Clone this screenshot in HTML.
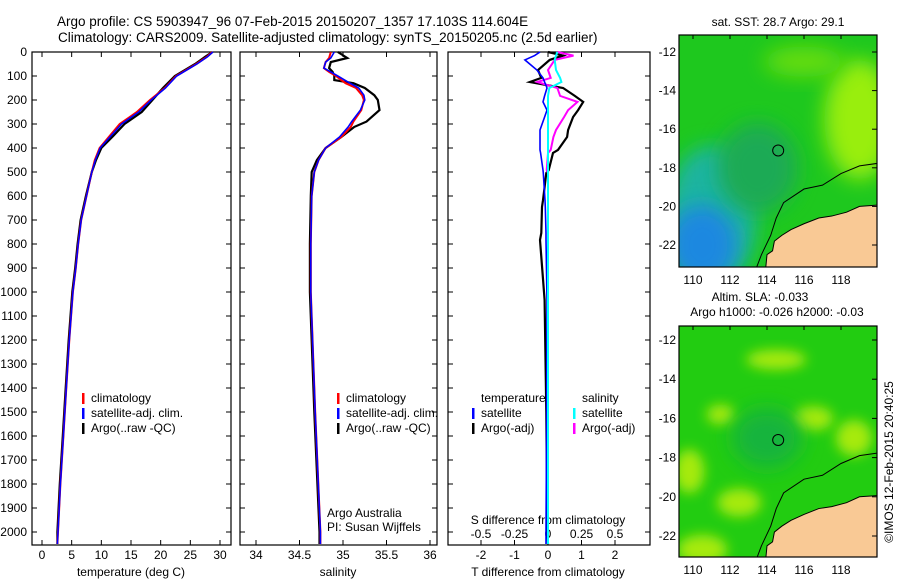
<!DOCTYPE html>
<html><head><meta charset="utf-8"><style>
html,body{margin:0;padding:0;background:#fff;}
svg{display:block;font-family:"Liberation Sans",sans-serif;}
</style></head><body>
<svg id="fig" width="900" height="580" viewBox="0 0 900 580" xmlns="http://www.w3.org/2000/svg">
<defs>
<filter id="blur8" x="-50%" y="-50%" width="200%" height="200%"><feGaussianBlur stdDeviation="10"/></filter>
<filter id="blur5" x="-50%" y="-50%" width="200%" height="200%"><feGaussianBlur stdDeviation="6"/></filter>
<clipPath id="clipTop"><rect x="679" y="35" width="198" height="232"/></clipPath>
<clipPath id="clipBot"><rect x="679" y="326" width="198" height="231"/></clipPath>
</defs>
<g font-size="13.5" fill="#000">
<text x="57" y="26">Argo profile: CS 5903947_96 07-Feb-2015 20150207_1357 17.103S 114.604E</text>
<text x="58" y="42">Climatology: CARS2009. Satellite-adjusted climatology: synTS_20150205.nc (2.5d earlier)</text>
</g>
<g id="plots"></g>
<g id="maps"></g>
<text transform="translate(893,462) rotate(-90)" text-anchor="middle" font-size="12">©IMOS 12-Feb-2015 20:40:25</text>
</svg>
<script>
// ---- data ----
const tDepth=[0,20,50,100,150,200,250,300,350,400,450,500,600,700,800,900,1000,1200,1400,1600,1800,2000,2050];
const tClim=[28.7,27.8,26,22.6,20.7,18.2,16,13.1,11.4,9.7,8.9,8.4,7.5,6.6,6.1,5.7,5.2,4.6,4.1,3.6,3.1,2.7,2.6];
const tSat=[28.8,27.9,26.1,22.7,20.8,18.4,16.3,13.4,11.6,9.8,9.0,8.4,7.5,6.6,6.1,5.7,5.2,4.6,4.1,3.6,3.1,2.7,2.6];
const tArgo=[28.7,27.5,25.8,22.4,20.4,18.6,16.8,13.9,12.0,10.0,9.1,8.4,7.4,6.5,6.0,5.6,5.1,4.5,4.0,3.5,3.0,2.6,2.6];
const sDepth=[0,25,42,67,83,100,117,130,150,180,200,242,290,312,354,400,450,500,600,800,1000,1500,2000,2050];
const sClim=[34.86,34.84,34.8,34.78,34.84,34.92,34.98,35.03,35.15,35.22,35.24,35.21,35.12,35.09,34.98,34.8,34.72,34.67,34.64,34.63,34.63,34.68,34.74,34.74];
const sSat=[34.9,34.86,34.8,34.78,34.86,34.94,35.02,35.08,35.18,35.24,35.25,35.2,35.1,35.06,34.96,34.8,34.72,34.67,34.64,34.63,34.63,34.68,34.74,34.74];
const sArgo=[34.94,35.05,34.86,34.84,34.88,34.9,34.9,35.12,35.25,35.36,35.4,35.42,35.27,35.13,34.98,34.8,34.7,34.64,34.63,34.62,34.62,34.67,34.73,34.73];
const dDepth=[0,15,33,75,108,125,150,183,208,242,271,325,354,408,421,492,504,617,646,754,783,1033,1500,2000,2050];
const dTSat=[-0.24,-0.4,-0.69,-0.33,-0.15,-0.1,-0.03,-0.1,-0.15,-0.03,-0.1,-0.24,-0.24,-0.24,-0.22,-0.15,-0.14,-0.09,-0.08,-0.06,-0.06,-0.03,-0.04,-0.06,-0.06];
const dTArgo=[0,0.45,0.05,-0.3,-0.2,-0.54,0.45,0.8,1.05,0.9,0.75,0.6,0.57,0.3,0.15,0.02,-0.05,-0.15,-0.18,-0.2,-0.24,-0.1,-0.05,-0.02,0];
const dSSat=[0.07,0.06,0.05,0.06,0.09,0.1,0.01,0.0,0.0,0.0,0.0,0.0,0.0,0.0,0.0,0.0,0.0,0.0,0.0,0.0,0.0,0.0,0.0,0.0,0.0];
const dSArgo=[0.07,0.19,0.05,0.0,0.02,-0.08,0.07,0.09,0.22,0.15,0.12,0.06,0.04,0.02,0.0,-0.01,0.0,0.0,0.0,0.0,0.0,0.0,0.0,0.0,0.0];
const depthTicks=[0,100,200,300,400,500,600,700,800,900,1000,1100,1200,1300,1400,1500,1600,1700,1800,1900,2000];
const tTicks=[0,5,10,15,20,25,30];
const sTicks=[34,34.5,35,35.5,36];
const sTickLabels=["34","34.5","35","35.5","36"];
const dTTicks=[-2,-1,0,1,2];
const dSTicks=[-0.5,-0.25,0,0.25,0.5];
const latTicks=[-12,-14,-16,-18,-20,-22];
const lonTicks=[110,112,114,116,118];

const NS='http://www.w3.org/2000/svg';
function el(tag,attrs,parent,txt){const e=document.createElementNS(NS,tag);for(const k in attrs)e.setAttribute(k,attrs[k]);if(txt!==undefined)e.textContent=txt;parent.appendChild(e);return e;}
const plots=document.getElementById('plots');
const maps=document.getElementById('maps');
const Y0=52,Y1=545;
const yD=d=>Y0+d*0.24;
function xlin(v0,p0,v1,p1){return v=>p0+(v-v0)*(p1-p0)/(v1-v0);}
const xT=xlin(0,42,30,220), xS=xlin(34,256,36,430), xDT=xlin(0,548,2,615), xDS=xlin(0,548,0.5,615);

function line(g,xs,vals,depths,col,w,name){
  const p=el('polyline',{points:vals.map((v,i)=>xs(v).toFixed(1)+','+yD(depths[i]).toFixed(1)).join(' '),fill:'none',stroke:col,'stroke-width':w},g);
  
  
}
function frame(x0,x1,name){
  const g=el('g',{},plots);
  
  
  el('rect',{x:x0,y:Y0,width:x1-x0,height:Y1-Y0,fill:'none',stroke:'#000','stroke-width':1.2},g);
  depthTicks.forEach(d=>{el('line',{x1:x0,x2:x0+5,y1:yD(d),y2:yD(d),stroke:'#000'},g);el('line',{x1:x1,x2:x1-5,y1:yD(d),y2:yD(d),stroke:'#000'},g);});
  return g;
}
function xticks(g,vals,labs,xs,ty){
  vals.forEach((v,i)=>{const x=xs(v);el('line',{x1:x,x2:x,y1:Y0,y2:Y0+5,stroke:'#000'},g);el('line',{x1:x,x2:x,y1:Y1,y2:Y1-5,stroke:'#000'},g);
   const t=el('text',{x:x,y:ty,'text-anchor':'middle','font-size':12},g,labs[i]);});
}
function legend(g,x,y,items){
  items.forEach((it,i)=>{el('rect',{x:x,y:y+i*15-9,width:2.5,height:11,fill:it[1]},g);
   const t=el('text',{x:x+9,y:y+i*15,'font-size':12},g,it[0]);});
}
// panel 1
let g=frame(32,231,'temperature-panel');
depthTicks.forEach(d=>{const t=el('text',{x:27,y:yD(d)+4,'text-anchor':'end','font-size':12},g,String(d));});
xticks(g,tTicks,tTicks.map(String),xT,559);
el('text',{x:131,y:576,'text-anchor':'middle','font-size':12},g,'temperature (deg C)');
line(g,xT,tArgo,tDepth,'#000',2.2,'argo-temperature-line');
line(g,xT,tClim,tDepth,'#f00',2,'climatology-temperature-line');
line(g,xT,tSat,tDepth,'#00f',1.6,'satellite-temperature-line');
legend(g,82,402,[['climatology','#f00'],['satellite-adj. clim.','#00f'],['Argo(..raw -QC)','#000']]);
// panel 2
g=frame(240,437,'salinity-panel');
xticks(g,sTicks,sTickLabels,xS,559);
el('text',{x:338,y:576,'text-anchor':'middle','font-size':12},g,'salinity');
line(g,xS,sArgo,sDepth,'#000',2.2,'argo-salinity-line');
line(g,xS,sClim,sDepth,'#f00',2,'climatology-salinity-line');
line(g,xS,sSat,sDepth,'#00f',1.6,'satellite-salinity-line');
legend(g,337,402,[['climatology','#f00'],['satellite-adj. clim.','#00f'],['Argo(..raw -QC)','#000']]);
el('text',{x:327,y:517,'font-size':12},g,'Argo Australia');
el('text',{x:327,y:531,'font-size':12},g,'PI: Susan Wijffels');
// panel 3
g=frame(448,650,'difference-panel');
dTTicks.forEach(v=>{const x=xDT(v);el('line',{x1:x,x2:x,y1:Y0,y2:Y0+5,stroke:'#000'},g);el('line',{x1:x,x2:x,y1:Y1,y2:Y1-5,stroke:'#000'},g);
 const t=el('text',{x:x,y:559,'text-anchor':'middle','font-size':12},g,String(v));});
dSTicks.forEach(v=>{const t=el('text',{x:xDS(v),y:538,'text-anchor':'middle','font-size':12},g,String(v).replace('0.','.').replace('-.','-0.').replace(/^\./,'0.'));});
el('text',{x:548,y:524,'text-anchor':'middle','font-size':12},g,'S difference from climatology');
el('text',{x:548,y:576,'text-anchor':'middle','font-size':12},g,'T difference from climatology');
line(g,xDT,dTArgo,dDepth,'#000',2.2,'argo-t-diff-line');
line(g,xDS,dSArgo,dDepth,'#f0f',2,'argo-s-diff-line');
line(g,xDT,dTSat,dDepth,'#00f',1.6,'satellite-t-diff-line');
line(g,xDS,dSSat,dDepth,'#0ff',2,'satellite-s-diff-line');
el('text',{x:481,y:402,'font-size':12},g,'temperature');
el('text',{x:582,y:402,'font-size':12},g,'salinity');
legend(g,472,417,[['satellite','#00f'],['Argo(-adj)','#000']]);
legend(g,573,417,[['satellite','#0ff'],['Argo(-adj)','#f0f']]);

// ---- maps ----
const xLon=xlin(110,693,118,841);
function mapPanel(y0,h,yLat,clip,name,kind){
  const g=el('g',{},maps);
  
  
  const c=el('g',{'clip-path':'url(#'+clip+')'},g);
  if(kind==='sst'){
    el('rect',{x:679,y:y0,width:198,height:h,fill:'#1ec81e'},c);
    el('ellipse',{cx:xLon(111),cy:yLat(-20.5),rx:45,ry:70,fill:'#1ab4a0',filter:'url(#blur8)'},c);
    el('ellipse',{cx:xLon(110.5),cy:yLat(-22),rx:35,ry:40,fill:'#1a88e0',filter:'url(#blur8)'},c);
    el('ellipse',{cx:xLon(113.5),cy:yLat(-18),rx:40,ry:45,fill:'#1aaa55',filter:'url(#blur8)'},c);
    el('ellipse',{cx:xLon(119),cy:yLat(-15.5),rx:35,ry:60,fill:'#99ee11',filter:'url(#blur8)'},c);
    el('ellipse',{cx:xLon(116),cy:yLat(-12.5),rx:40,ry:15,fill:'#66dd11',filter:'url(#blur8)'},c);
  } else {
    el('rect',{x:679,y:y0,width:198,height:h,fill:'#22cc11'},c);
    [[110.5,-22.7,25,15],[109.8,-18.7,15,22],[112.5,-20.3,22,14],[118.7,-17,18,18],[116.5,-16,20,12],[111.5,-15.8,14,10],[114.5,-13,30,10]].forEach(b=>
      el('ellipse',{cx:xLon(b[0]),cy:yLat(b[1]),rx:b[2],ry:b[3],fill:'#a6ea10',filter:'url(#blur5)'},c));
    el('ellipse',{cx:xLon(114),cy:yLat(-17),rx:35,ry:30,fill:'#14b43c',filter:'url(#blur8)'},c);
  }
  const land=[[113.9,-23.5],[114.0,-22.5],[114.3,-22.3],[114.4,-21.8],[114.8,-21.5],[115.3,-21.2],[116.0,-20.9],[116.8,-20.6],[117.5,-20.5],[118.3,-20.3],[119.0,-20.0],[120.5,-19.9],[120.5,-23.5]];
  el('polygon',{points:land.map(p=>xLon(p[0])+','+yLat(p[1])).join(' '),fill:'#f9c995',stroke:'#000','stroke-width':1},c);
  const iso=[[113.3,-23.5],[113.7,-22.5],[114.2,-21.5],[114.5,-20.6],[114.9,-19.8],[116.0,-19.1],[117.0,-18.9],[118.0,-18.3],[119.0,-17.9],[120.5,-17.7]];
  el('polyline',{points:iso.map(p=>xLon(p[0])+','+yLat(p[1])).join(' '),fill:'none',stroke:'#000','stroke-width':1},c);
  const m=el('circle',{cx:xLon(114.604),cy:yLat(-17.103),r:5.5,fill:'none',stroke:'#000','stroke-width':1},g);
  
  
  el('rect',{x:679,y:y0,width:198,height:h,fill:'none',stroke:'#000','stroke-width':1.2},g);
  latTicks.forEach(v=>{const y=yLat(v);el('line',{x1:877,x2:872,y1:y,y2:y,stroke:'#000'},g);
    const t=el('text',{x:676,y:y+4,'text-anchor':'end','font-size':12},g,String(v));});
  lonTicks.forEach(v=>{const x=xLon(v);el('line',{x1:x,x2:x,y1:y0,y2:y0+4,stroke:'#000'},g);});
  return g;
}
const yLatTop=v=>52+(-12-v)*19.3, yLatBot=v=>340+(-12-v)*19.6;
let mg=mapPanel(35,232,yLatTop,'clipTop','sst-map','sst');
lonTicks.forEach(v=>el('text',{x:xLon(v),y:284,'text-anchor':'middle','font-size':12},mg,String(v)));
el('text',{x:778,y:26,'text-anchor':'middle','font-size':12},mg,'sat. SST: 28.7 Argo: 29.1');
el('text',{x:760,y:301,'text-anchor':'middle','font-size':12},mg,'Altim. SLA: -0.033');
el('text',{x:777,y:316,'text-anchor':'middle','font-size':12},mg,'Argo h1000: -0.026 h2000: -0.03');
mg=mapPanel(326,231,yLatBot,'clipBot','sla-map','sla');
lonTicks.forEach(v=>el('text',{x:xLon(v),y:574,'text-anchor':'middle','font-size':12},mg,String(v)));
</script>
</body></html>
